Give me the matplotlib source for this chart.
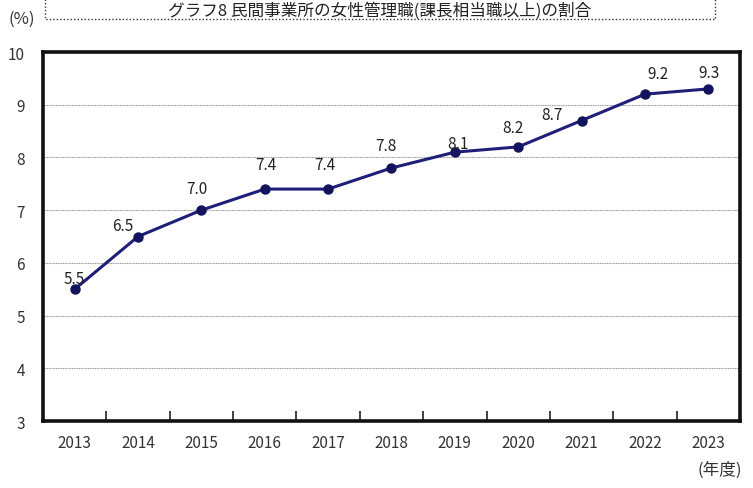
import matplotlib.pyplot as plt
from matplotlib.lines import Line2D

plt.rcParams['font.family'] = ['Noto Sans CJK JP', 'DejaVu Sans']

### Data
years = ['2013', '2014', '2015', '2016', '2017', '2018', '2019', '2020', '2021', '2022', '2023']
ratio = [5.5, 6.5, 7.0, 7.4, 7.4, 7.8, 8.1, 8.2, 8.7, 9.2, 9.3]
value_labels = ['5.5', '6.5', '7.0', '7.4', '7.4', '7.8', '8.1', '8.2', '8.7', '9.2', '9.3']
# label offsets in pixels (dx, dy) relative to each point
label_offsets = [(0, 11), (-15, 11), (-5, 22), (1, 25), (-3, 25), (-6, 22), (3, 9), (-5, 19), (-30, 6), (13, 21), (1, 16)]

### Plot
fig = plt.figure(figsize=(7.53, 4.89), dpi=100)
ax = fig.add_axes([0.0571, 0.137, 0.9256, 0.7546])

x = list(range(len(years)))
ax.plot(x, ratio, color='#1f1f7a', linewidth=2.2, marker='o', markersize=6.5,
        markerfacecolor='#14145e', markeredgecolor='#14145e', zorder=3)

for xi, yi, lab, (dx, dy) in zip(x, ratio, value_labels, label_offsets):
    ax.annotate(lab, (xi, yi), xytext=(dx * 0.72, dy * 0.72), textcoords='offset points',
                ha='center', va='center', fontsize=11, color='#222222')

ax.set_xlim(-0.5, len(years) - 0.5)
ax.set_ylim(3, 10)
ax.set_yticks(range(3, 11))
ax.set_yticklabels([str(v) for v in range(3, 11)], fontsize=11, color='#333333')
ax.yaxis.grid(True, color='#9a9a9a', linewidth=0.8, linestyle=(0, (1, 0.6)))
ax.tick_params(axis='y', length=0, pad=13)

ax.set_xticks([i + 0.5 for i in range(len(years) - 1)], minor=False)
ax.set_xticklabels([])
ax.tick_params(axis='x', direction='in', length=7, width=1.2, color='#222222')
ax.set_xticks(x, minor=True)
ax.set_xticklabels(years, minor=True, fontsize=11, color='#333333')
ax.tick_params(axis='x', which='minor', length=0, pad=9)

for s in ax.spines.values():
    s.set_linewidth(2.6)
    s.set_color('#111111')

fig.text(22 / 753, 1 - 19 / 489, '(%)', ha='center', va='center', fontsize=12, color='#333333')
fig.text(720 / 753, 1 - 470 / 489, '(年度)', ha='center', va='center', fontsize=12, color='#333333')

# title box (the top edge lies outside the image)
fig.text(380 / 753, 1 - 16 / 489, 'グラフ8 民間事業所の女性管理職(課長相当職以上)の割合',
         ha='center', va='baseline', fontsize=12, color='#222222')
bx0, bx1, by0, by1 = 45 / 753, 715 / 753, 1 - 20 / 489, 1.05
fig.add_artist(Line2D([bx0, bx0, bx1, bx1], [by1, by0, by0, by1], transform=fig.transFigure,
                      color='#333333', linewidth=1, linestyle=(0, (1, 1.5))))

plt.savefig('out.png', dpi=100)
